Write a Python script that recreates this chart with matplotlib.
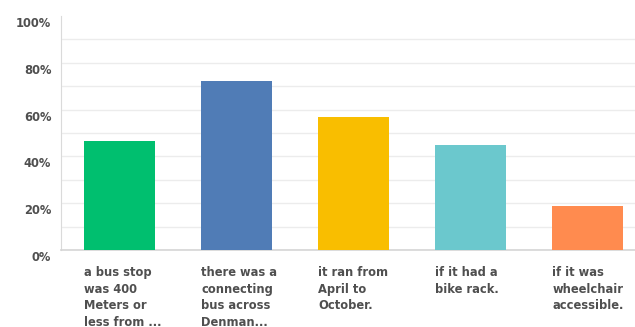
import matplotlib
matplotlib.use("Agg")
import matplotlib.pyplot as plt
import matplotlib.transforms as mtransforms
from matplotlib.ticker import MultipleLocator, FuncFormatter

categories = [
    "a bus stop\nwas 400\nMeters or\nless from ...",
    "there was a\nconnecting\nbus across\nDenman...",
    "it ran from\nApril to\nOctober.",
    "if it had a\nbike rack.",
    "if it was\nwheelchair\naccessible.",
]
values = [46.6, 72.2, 56.8, 44.9, 18.9]
colors = ["#00BF6F", "#507CB6", "#F9BE00", "#6BC8CD", "#FF8B4F"]
yticks = [0, 20, 40, 60, 80, 100]

W, H = 635, 327
fig = plt.figure(figsize=(W / 100, H / 100), dpi=100)
ax = fig.add_axes([61 / W, (H - 250) / H, 1 - 61 / W, 234 / H])

x = list(range(len(categories)))
ax.bar(x, values, width=0.6, color=colors, zorder=3)
ax.set_xlim(-0.5, 4.5 - 11 / 117)
ax.set_ylim(0, 100)

ax.set_yticks(yticks)
ax.yaxis.set_minor_locator(MultipleLocator(10))
ax.yaxis.set_major_formatter(FuncFormatter(lambda v, p: f"{int(v)}%"))
ax.grid(axis="y", which="both", color="#ECECEC", linewidth=1, zorder=0)
ax.tick_params(axis="y", which="both", length=0, pad=7, labelsize=8.3,
               labelcolor="#4F4F4F")
for lab in ax.get_yticklabels():
    lab.set_fontweight("bold")
    lab.set_transform(lab.get_transform() +
                      mtransforms.ScaledTranslation(0, -6 / 100, fig.dpi_scale_trans))
ax.yaxis.get_major_ticks()[-1].gridline.set_visible(False)
ax.set_xticks([])

for s in ["top", "right"]:
    ax.spines[s].set_visible(False)
ax.spines["left"].set_color("#DADADA")
ax.spines["bottom"].set_color("#D5D5D5")
ax.spines["bottom"].set_linewidth(1.2)

trans = mtransforms.blended_transform_factory(ax.transData, fig.transFigure)
for i, lab in enumerate(categories):
    ax.text(i - 0.3, (H - 266) / H, lab, transform=trans, ha="left", va="top",
            fontsize=8.3, fontweight="bold", color="#4F4F4F", linespacing=1.36)

fig.savefig("out.png", dpi=100)
